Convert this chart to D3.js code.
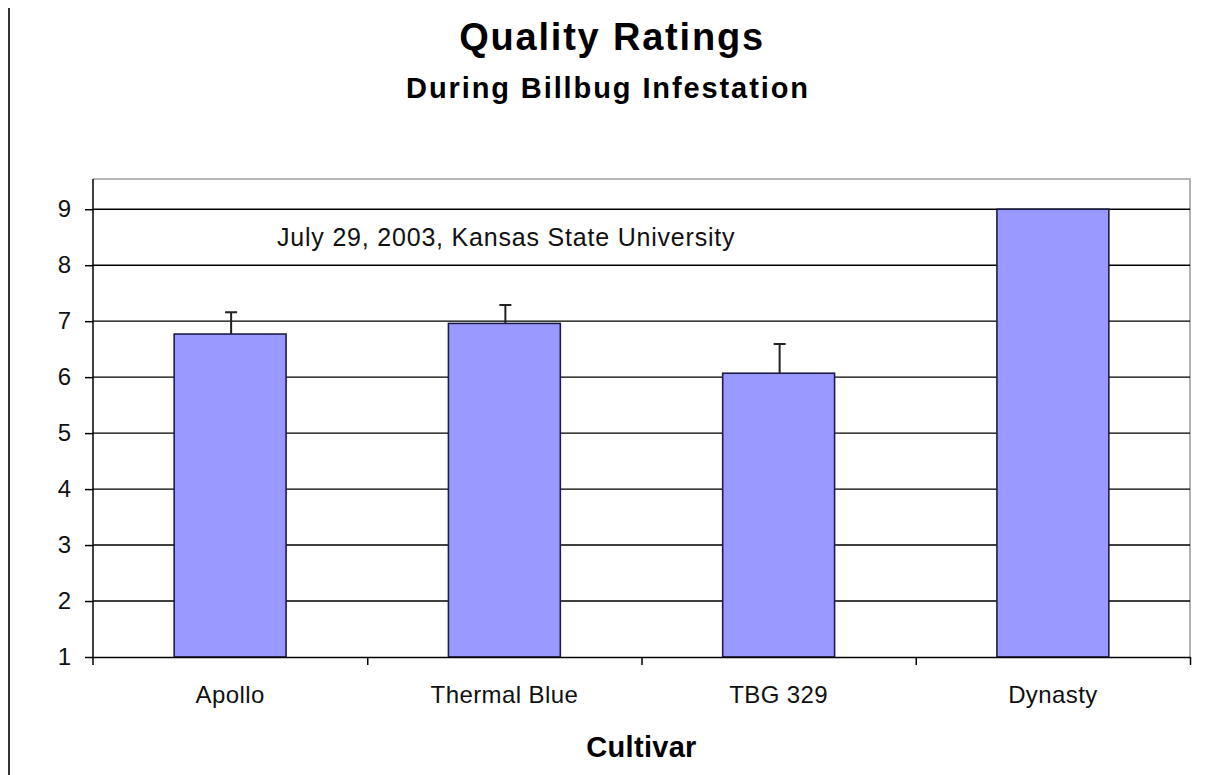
<!DOCTYPE html>
<html>
<head>
<meta charset="utf-8">
<title>Quality Ratings</title>
<script src="https://cdnjs.cloudflare.com/ajax/libs/d3/7.8.5/d3.min.js"></script>
<style>
body { margin: 0; background: #fff; }
svg text { font-family: "Liberation Sans", Arial, sans-serif; fill: #000; }
.grid line { stroke: #000; stroke-width: 1.4; }
.bar { fill: #9999ff; stroke: #1c1c48; stroke-width: 1.6; }
.err { stroke: #222; stroke-width: 2; fill: none; }
.axis path, .axis line { stroke: #000; stroke-width: 1.5; }
.axis text { font-size: 24px; fill: #111; }
</style>
</head>
<body>
<svg id="chart"></svg>
<script>
// values
var cultivars = ["Apollo", "Thermal Blue", "TBG 329", "Dynasty"];
var ratings = [6.77, 6.96, 6.07, 9.0];
var errors = [0.39, 0.33, 0.52, 0];
var yTicks = [1, 2, 3, 4, 5, 6, 7, 8, 9];

var data = cultivars.map(function(c, i) {
  return { name: c, rating: ratings[i], err: errors[i] };
});

var margin = { top: 179, right: 24, bottom: 118, left: 93 };
var totalW = 1214, totalH = 775;
var width = totalW - margin.left - margin.right;
var height = totalH - margin.top - margin.bottom;

var svg = d3.select("#chart")
  .attr("width", totalW)
  .attr("height", totalH);

// thin frame line on the left edge of the page
svg.append("line")
  .attr("x1", 9).attr("x2", 9)
  .attr("y1", 8).attr("y2", totalH)
  .attr("stroke", "#000").attr("stroke-width", 1.6);

svg.append("text")
  .attr("x", 612).attr("y", 50)
  .attr("text-anchor", "middle")
  .style("font-size", "38px").style("font-weight", "bold")
  .style("letter-spacing", "1.8px")
  .text("Quality Ratings");

svg.append("text")
  .attr("x", 608).attr("y", 98)
  .attr("text-anchor", "middle")
  .style("font-size", "29px").style("font-weight", "bold")
  .style("letter-spacing", "1.9px")
  .text("During Billbug Infestation");

var g = svg.append("g")
  .attr("transform", "translate(" + margin.left + "," + margin.top + ")");

var y = d3.scaleLinear()
  .domain([1, 9.54])
  .range([height, 0]);

var x = d3.scaleBand()
  .domain(cultivars)
  .range([0, width])
  .padding(0);

var edges = d3.scaleLinear()
  .domain([0, cultivars.length])
  .range([0, width]);

// plot area border (grey top / right)
g.append("path")
  .attr("d", "M0,0H" + width + "V" + height)
  .attr("fill", "none")
  .attr("stroke", "#a0a0a0")
  .attr("stroke-width", 1.6);

// horizontal gridlines
g.append("g")
  .attr("class", "grid")
  .selectAll("line")
  .data(yTicks.slice(1))
  .enter().append("line")
  .attr("x1", 0).attr("x2", width)
  .attr("y1", function(d) { return y(d); })
  .attr("y2", function(d) { return y(d); });

var barW = x.bandwidth() * 0.408;

g.selectAll(".bar")
  .data(data)
  .enter().append("rect")
  .attr("class", "bar")
  .attr("x", function(d) { return x(d.name) + (x.bandwidth() - barW) / 2; })
  .attr("width", barW)
  .attr("y", function(d) { return y(d.rating); })
  .attr("height", function(d) { return height - y(d.rating); });

// error bars (upper only)
g.selectAll(".err")
  .data(data.filter(function(d) { return d.err > 0; }))
  .enter().append("path")
  .attr("class", "err")
  .attr("d", function(d) {
    var cx = x(d.name) + x.bandwidth() / 2 + 1;
    var top = y(d.rating + d.err);
    return "M" + cx + "," + y(d.rating) + "V" + top +
           "M" + (cx - 6) + "," + top + "H" + (cx + 6);
  });

// y axis
g.append("g")
  .attr("class", "axis")
  .call(d3.axisLeft(y).tickValues(yTicks).tickSize(8).tickPadding(14)
    .tickSizeOuter(0).tickFormat(d3.format("d")))
  .select(".domain").remove();

g.append("line")
  .attr("x1", 0).attr("x2", 0)
  .attr("y1", 0).attr("y2", height + 8)
  .attr("stroke", "#000").attr("stroke-width", 1.5);

// x axis: ticks between categories
g.append("g")
  .attr("class", "axis")
  .attr("transform", "translate(0," + height + ")")
  .call(d3.axisBottom(edges).tickValues(d3.range(1, cultivars.length + 1))
    .tickSize(8).tickSizeOuter(0).tickFormat(""));

// x axis labels
g.append("g")
  .attr("class", "axis")
  .attr("transform", "translate(0," + height + ")")
  .call(d3.axisBottom(x).tickSize(0).tickPadding(29))
  .call(function(s) { s.select(".domain").remove(); })
  .selectAll("text")
  .style("letter-spacing", "0.4px");

g.append("text")
  .attr("x", 184).attr("y", 246 - margin.top)
  .style("font-size", "25px")
  .style("fill", "#111")
  .style("letter-spacing", "0.8px")
  .text("July 29, 2003, Kansas State University");

svg.append("text")
  .attr("x", margin.left + width / 2).attr("y", 757)
  .attr("text-anchor", "middle")
  .style("font-size", "29px").style("font-weight", "bold")
  .style("letter-spacing", "0.3px")
  .text("Cultivar");
</script>
</body>
</html>
